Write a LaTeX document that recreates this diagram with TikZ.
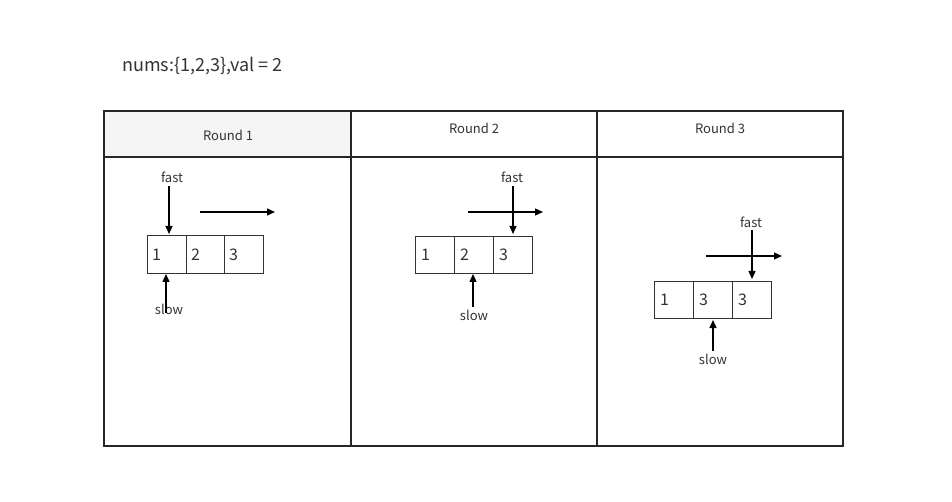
\documentclass[tikz,border=0pt]{standalone}
\usepackage{fontspec}
\setmainfont{Noto Sans CJK SC}
\usetikzlibrary{arrows.meta}
\definecolor{hdrgray}{HTML}{F5F5F5}
\definecolor{txt}{HTML}{333333}
\tikzset{
  lbl/.style={font=\fontsize{13}{15}\selectfont, text=txt, inner sep=0pt},
  num/.style={font=\fontsize{16}{19}\selectfont, text=txt, inner sep=0pt, anchor=west},
  cell/.style={draw=black!80, line width=0.8pt},
  ptr/.style={line width=1.3pt, -{Triangle[length=8pt,width=7pt]}},
  frame/.style={draw=black!85, line width=1.1pt},
}
\begin{document}
\begin{tikzpicture}[x=1pt,y=-1pt]
\useasboundingbox (0,0) rectangle (952,502);
% title
\node[font=\fontsize{18}{21}\selectfont, text=txt, anchor=west, inner sep=0pt] (title) at (122,66) {nums:\{1,2,3\},val = 2};
% table
\fill[hdrgray] (104,111) rectangle (351,157);
\draw[frame] (104,111) rectangle (843,446);
\draw[frame] (351,111) -- (351,446);
\draw[frame] (597,111) -- (597,446);
\draw[frame] (104,157) -- (843,157);
\node[lbl] (r1) at (228,135) {Round 1};
\node[lbl] (r2) at (474,128) {Round 2};
\node[lbl] (r3) at (720,128) {Round 3};

% Round 1
\draw[cell] (147,235) rectangle (263,273);
\draw[cell] (186,235) -- (186,273);
\draw[cell] (224,235) -- (224,273);
\node[num] (a11) at (152,255) {1};
\node[num] (a12) at (191,255) {2};
\node[num] (a13) at (229,255) {3};
\node[lbl] (f1) at (172,177) {fast};
\coordinate (f1s) at (169,186);
\coordinate (f1e) at (169,234);
\draw[ptr] (f1s) -- (f1e);
\coordinate (h1s) at (200,212);
\coordinate (h1e) at (275,212);
\draw[ptr] (h1s) -- (h1e);
\node[lbl] (s1) at (169,309) {slow};
\coordinate (s1s) at (166,313);
\coordinate (s1e) at (166,274);
\draw[ptr] (s1s) -- (s1e);

% Round 2
\draw[cell] (415,236) rectangle (532,273);
\draw[cell] (454,236) -- (454,273);
\draw[cell] (493,236) -- (493,273);
\node[num] (a21) at (421,255) {1};
\node[num] (a22) at (460,255) {2};
\node[num] (a23) at (499,255) {3};
\node[lbl] (f2) at (512,177) {fast};
\coordinate (f2s) at (513,186);
\coordinate (f2e) at (513,234);
\draw[ptr] (f2s) -- (f2e);
\coordinate (h2s) at (468,212);
\coordinate (h2e) at (543,212);
\draw[ptr] (h2s) -- (h2e);
\node[lbl] (s2) at (474,315) {slow};
\coordinate (s2s) at (473,307);
\coordinate (s2e) at (473,274);
\draw[ptr] (s2s) -- (s2e);

% Round 3
\draw[cell] (654,281) rectangle (771,318);
\draw[cell] (693,281) -- (693,318);
\draw[cell] (732,281) -- (732,318);
\node[num] (a31) at (660,300) {1};
\node[num] (a32) at (699,300) {3};
\node[num] (a33) at (738,300) {3};
\node[lbl] (f3) at (751,222) {fast};
\coordinate (f3s) at (752,230);
\coordinate (f3e) at (752,279);
\draw[ptr] (f3s) -- (f3e);
\coordinate (h3s) at (706,256);
\coordinate (h3e) at (782,256);
\draw[ptr] (h3s) -- (h3e);
\node[lbl] (s3) at (713,359) {slow};
\coordinate (s3s) at (713,351);
\coordinate (s3e) at (713,320);
\draw[ptr] (s3s) -- (s3e);
\end{tikzpicture}
\end{document}
